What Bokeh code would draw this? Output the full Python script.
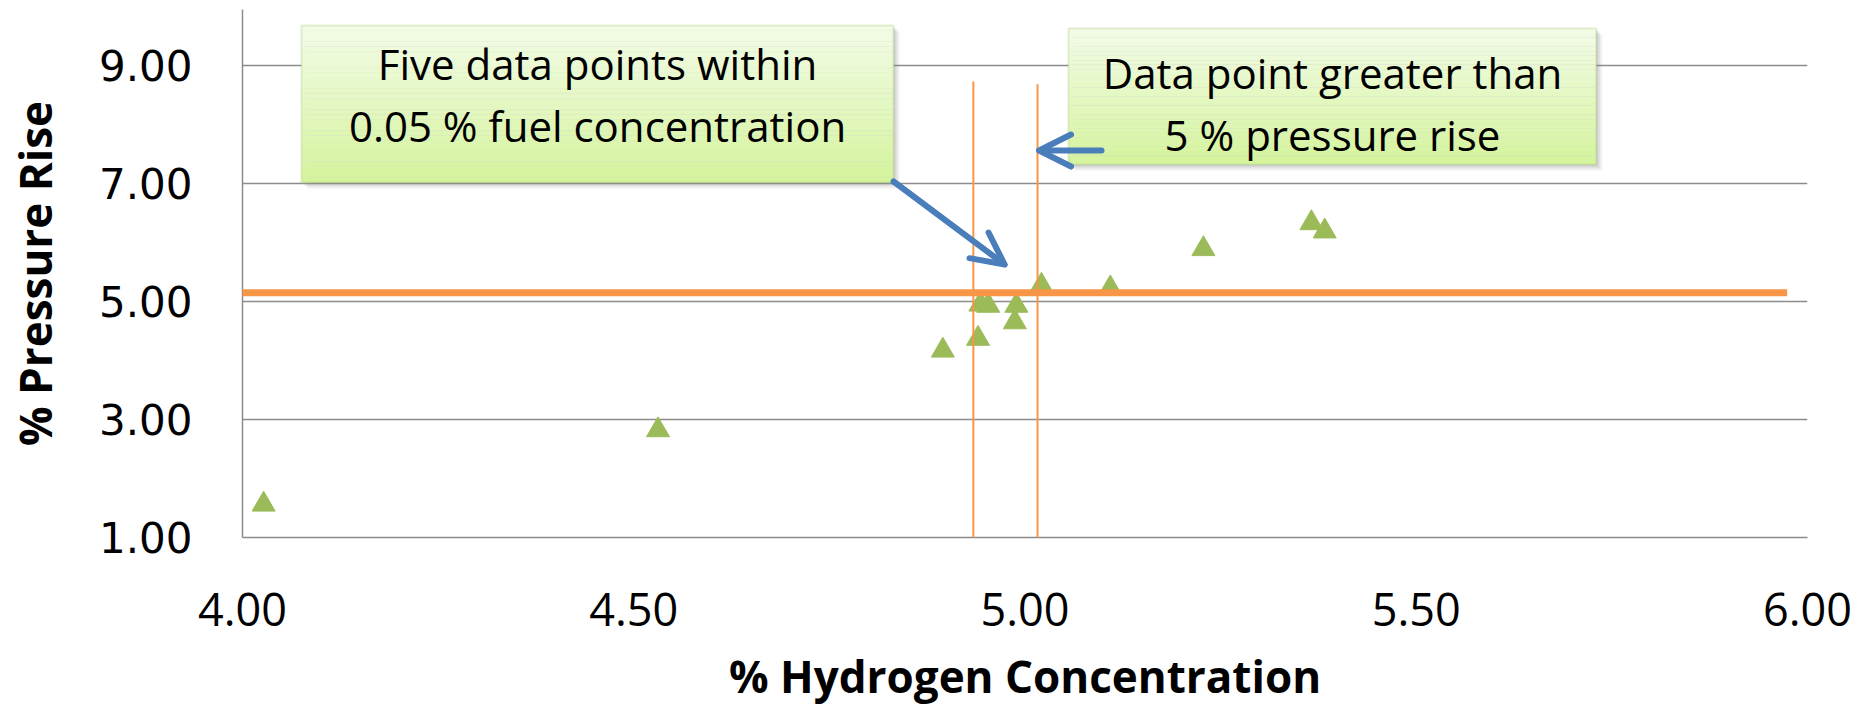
from bokeh.plotting import figure
from bokeh.models import (Range1d, FixedTicker, NumeralTickFormatter, BoxAnnotation,
                          Label, Arrow, OpenHead, ColumnDataSource)
from bokeh.embed import file_html
from bokeh.resources import INLINE

# ---- data ----
h2_conc = [4.027, 4.531, 4.895, 4.940, 4.943, 4.953, 4.987, 4.989, 5.021, 5.109, 5.228, 5.366, 5.383]
pressure_rise = [1.56, 2.82, 4.17, 4.37, 4.95, 4.93, 4.65, 4.93, 5.27, 5.225, 5.89, 6.33, 6.19]
x_ticks = [4.0, 4.5, 5.0, 5.5, 6.0]
y_ticks = [1.0, 3.0, 5.0, 7.0, 9.0]

# ---- annotation geometry (data units) ----
threshold_y = 5.15
threshold_x = [3.976, 5.974]
window_x = [4.934, 5.016]
window_bottom = [0.627, 0.82]
window_top = [8.73, 8.68]

box_texts = [["Five data points within", "0.05 % fuel concentration"],
             ["Data point greater than", "5 % pressure rise"]]
box_left = [4.0754, 5.0556]
box_right = [4.832, 5.730]
box_top = [9.678, 9.627]
box_bottom = [7.017, 7.322]
text_cx = [4.4537, 5.393]
text_y = [[9.034, 7.983], [8.873, 7.831]]

arrows = [((4.832, 7.034), (4.974, 5.627)), ((5.0978, 7.559), (5.018, 7.559))]

GREEN = "#9BBB59"
ORANGE = "#F79646"
BLUE = "#4A7EBB"
GRID = "#8C8C8C"

X_RANGE = (4.0, 6.0)
Y_RANGE = (1.0, 9.949)
FRAME_W, FRAME_H = 1565, 528

p = figure(frame_width=FRAME_W, frame_height=FRAME_H,
           x_range=Range1d(*X_RANGE), y_range=Range1d(*Y_RANGE),
           output_backend="svg", toolbar_location=None,
           min_border_left=242, min_border_right=57, min_border_top=9, min_border_bottom=167,
           background_fill_color="white", border_fill_color="white")
p.outline_line_color = None

src = ColumnDataSource(dict(x=h2_conc, y=pressure_rise))
p.scatter("x", "y", source=src, marker="triangle", size=23,
          fill_color=GREEN, line_color=GREEN)

# axes
p.xaxis.ticker = FixedTicker(ticks=x_ticks)
p.yaxis.ticker = FixedTicker(ticks=y_ticks)
p.xaxis.formatter = NumeralTickFormatter(format="0.00")
p.yaxis.formatter = NumeralTickFormatter(format="0.00")
for ax in (p.xaxis, p.yaxis):
    ax.major_tick_out = 0
    ax.major_tick_in = 0
    ax.minor_tick_out = 0
    ax.minor_tick_in = 0
    ax.axis_line_color = GRID
    ax.axis_line_width = 1.5
    ax.major_label_text_color = "black"
    ax.axis_label_text_color = "black"
    ax.axis_label_text_font = "Open Sans"
    ax.axis_label_text_font_style = "bold"
    ax.axis_label_text_font_size = "44px"

p.xaxis.axis_label = "% Hydrogen Concentration"
p.yaxis.axis_label = "% Pressure Rise"
p.xaxis.major_label_text_font = "Open Sans"
p.xaxis.major_label_text_font_size = "45px"
p.xaxis.major_label_standoff = 55
p.xaxis.axis_label_standoff = 17
p.yaxis.major_label_text_font = "DejaVu Sans"
p.yaxis.major_label_text_font_size = "42px"
p.yaxis.major_label_standoff = 50
p.yaxis.axis_label_standoff = 31

p.xgrid.grid_line_color = None
p.ygrid.grid_line_color = GRID
p.ygrid.grid_line_width = 1.5

# pixels per data unit (derived from the frame and ranges)
ppx = FRAME_W / (X_RANGE[1] - X_RANGE[0])
ppy = FRAME_H / (Y_RANGE[1] - Y_RANGE[0])

# text boxes with shadow and vertical gradient
px_x = 2.0 / ppx
px_y = 2.0 / ppy
top_rgb = (242, 251, 230)
bot_rgb = (213, 244, 158)
n_strips = 30
for i in range(2):
    L, R, T, B = box_left[i], box_right[i], box_top[i], box_bottom[i]
    for k, a in ((3, 0.10), (2, 0.15), (1, 0.2)):
        p.add_layout(BoxAnnotation(left=L + k * px_x, right=R + k * px_x,
                                   top=T - k * px_y, bottom=B - k * px_y,
                                   fill_color="gray", fill_alpha=a, line_color=None,
                                   level="annotation"))
    h = (T - B) / n_strips
    for s in range(n_strips):
        t = s / (n_strips - 1)
        c = tuple(int(round(top_rgb[j] + (bot_rgb[j] - top_rgb[j]) * t)) for j in range(3))
        p.add_layout(BoxAnnotation(left=L, right=R, top=T - s * h, bottom=T - (s + 1) * h - 0.001,
                                   fill_color="#%02x%02x%02x" % c, fill_alpha=1.0,
                                   line_color=None, level="annotation"))
    p.add_layout(BoxAnnotation(left=L, right=R, top=T, bottom=B, fill_alpha=0.0,
                               line_color="#A8C878", line_width=2, level="annotation"))
    for j, line in enumerate(box_texts[i]):
        p.add_layout(Label(x=text_cx[i], y=text_y[i][j], text=line,
                           text_align="center", text_baseline="middle",
                           text_font="Open Sans", text_font_size="42px",
                           text_color="black"))

# orange reference lines (thin filled boxes)
half_h = 3.5 / ppy
p.add_layout(BoxAnnotation(left=threshold_x[0], right=threshold_x[1],
                           bottom=threshold_y - half_h, top=threshold_y + half_h,
                           fill_color=ORANGE, fill_alpha=1.0, line_color=None,
                           level="annotation"))
half_w = 1.0 / ppx
for i in range(2):
    p.add_layout(BoxAnnotation(left=window_x[i] - half_w, right=window_x[i] + half_w,
                               bottom=window_bottom[i], top=window_top[i],
                               fill_color=ORANGE, fill_alpha=1.0, line_color=None,
                               level="annotation"))

# blue arrows
for (x0, y0), (x1, y1) in arrows:
    p.add_layout(Arrow(end=OpenHead(size=32, line_color=BLUE, line_width=6,
                                    line_cap="round", line_join="round"),
                       x_start=x0, y_start=y0, x_end=x1, y_end=y1,
                       line_color=BLUE, line_width=6, line_cap="round"))

open("out.html", "w").write(file_html(p, INLINE))
